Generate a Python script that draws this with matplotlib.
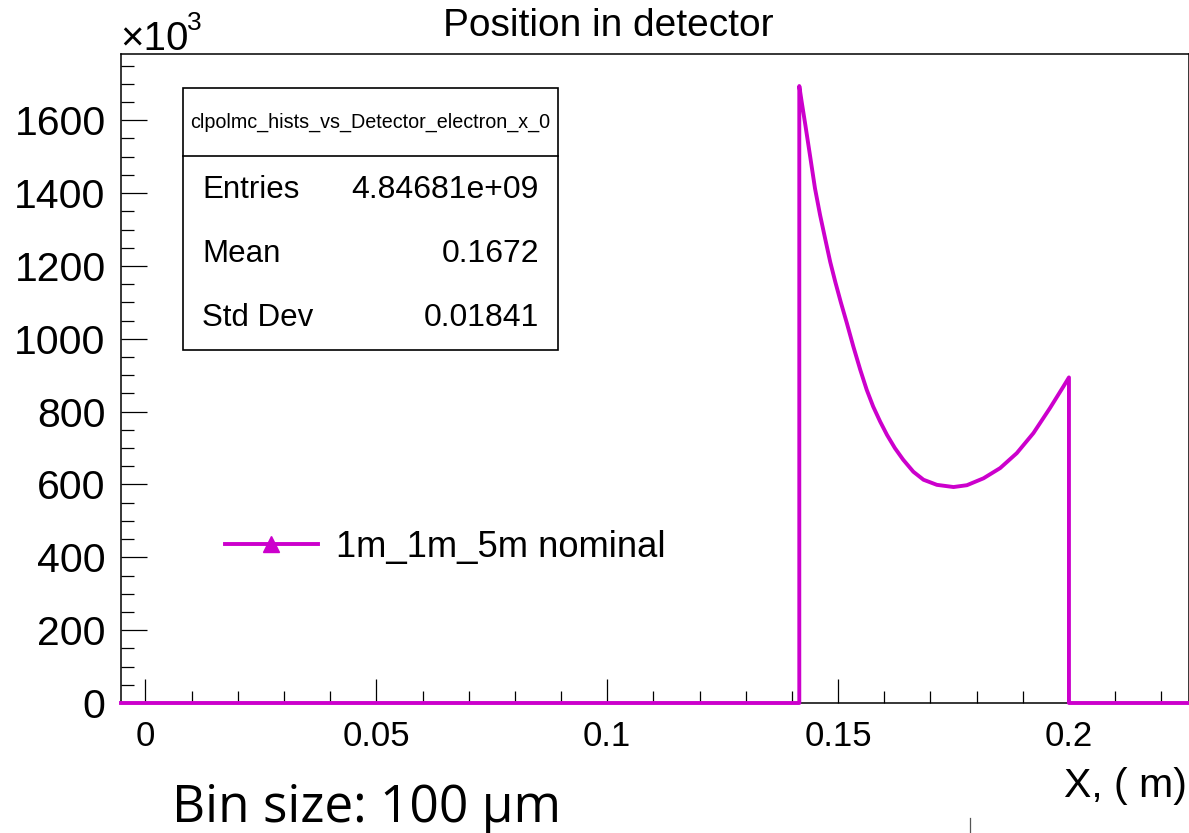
import matplotlib
matplotlib.use("Agg")
import matplotlib.pyplot as plt
from matplotlib.lines import Line2D
from matplotlib.patches import Rectangle
from matplotlib.ticker import MultipleLocator

plt.rcParams['font.family'] = ['Liberation Sans', 'DejaVu Sans']

# Histogram range (m) and the non-empty part of it
HIST_LO, HIST_HI = -0.0053, 0.226
Y_MAX = 1782  # x10^3

# Bin contents (x in m, counts in units of 10^3)
x_pos = [0.1416, 0.1421, 0.1429, 0.1439, 0.1450, 0.1461, 0.1472, 0.1483, 0.1494, 0.1506,
         0.1519, 0.1533, 0.1548, 0.1562, 0.1576, 0.1591, 0.1606, 0.1623, 0.1641, 0.1663,
         0.1685, 0.1714, 0.1750, 0.1779, 0.1815, 0.1851, 0.1887, 0.1923, 0.1959, 0.1988,
         0.2000]
counts = [1694, 1652, 1588, 1505, 1413, 1340, 1275, 1211, 1156, 1100,
          1043, 979, 915, 860, 814, 773, 736, 700, 668, 635,
          613, 599, 593, 598, 617, 645, 686, 741, 810, 869,
          894]

stats_title = "clpolmc_hists_vs_Detector_electron_x_0"
stats_names = ["Entries", "Mean", "Std Dev"]
stats_values = ["4.84681e+09", "0.1672", "0.01841"]
legend_label = "1m_1m_5m nominal"

LINE_COLOR = '#cc00cc'

fig = plt.figure(figsize=(11.89, 8.33), dpi=100)
ax = fig.add_axes([121 / 1189, 1 - 703 / 833, 1 - 121 / 1189, (703 - 54) / 833])

# outline of the histogram: zero, jump up, curve, drop to zero
xs = [HIST_LO, x_pos[0]] + x_pos + [x_pos[-1], HIST_HI]
ys = [0, 0] + counts + [0, 0]
ax.plot(xs, ys, color=LINE_COLOR, lw=2.8, solid_joinstyle='round', clip_on=False, zorder=3)

ax.set_xlim(HIST_LO, HIST_HI)
ax.set_ylim(0, Y_MAX)
ax.xaxis.set_minor_locator(MultipleLocator(0.01))
ax.yaxis.set_major_locator(MultipleLocator(200))
ax.yaxis.set_minor_locator(MultipleLocator(50))
ax.set_xticks([0, 0.05, 0.1, 0.15, 0.2])
ax.set_xticklabels(["0", "0.05", "0.1", "0.15", "0.2"])
ax.tick_params(axis='both', which='both', direction='in', top=False, right=False, width=0.9)
ax.tick_params(axis='y', which='major', length=19, labelsize=29.5, pad=11)
ax.tick_params(axis='y', which='minor', length=9.5)
ax.tick_params(axis='x', which='major', length=17, labelsize=25, pad=12)
ax.tick_params(axis='x', which='minor', length=9)
for s in ax.spines.values():
    s.set_linewidth(1.1)

# stats box
bx0, bx1 = 183 / 1189, 558 / 1189
by0, by1 = 1 - 350 / 833, 1 - 88 / 833
fig.add_artist(Rectangle((bx0, by0), bx1 - bx0, by1 - by0, transform=fig.transFigure,
                         facecolor='white', edgecolor='black', lw=1.2, zorder=5))
fig.add_artist(Line2D([bx0, bx1], [1 - 156 / 833] * 2, transform=fig.transFigure,
                      color='black', lw=1.2, zorder=6))
fig.text((bx0 + bx1) / 2, 1 - 122 / 833, stats_title, ha='center', va='center',
         fontsize=14.2, zorder=7)
for i, (name, val) in enumerate(zip(stats_names, stats_values)):
    yy = 1 - (190 + 64 * i) / 833
    fig.text(202 / 1189, yy, name, ha='left', va='center', fontsize=22.5, zorder=7)
    fig.text(539 / 1189, yy, val, ha='right', va='center', fontsize=23, zorder=7)

# legend
handle = Line2D([], [], color=LINE_COLOR, lw=2.8, marker='^', markersize=12)
fig.legend(handles=[handle], labels=[legend_label], loc='center left',
           bbox_to_anchor=(225 / 1189, 1 - 547 / 833), frameon=False, fontsize=26.2,
           handlelength=2.55, handletextpad=0.5, borderpad=0, borderaxespad=0)

# texts
fig.text(0.5118, 1 - 36 / 833, "Position in detector", ha='center', va='baseline', fontsize=28)
fig.text(120 / 1189, 1 - 50 / 833, "\u00d710", ha='left', va='baseline', fontsize=29)
fig.text(187 / 1189, 1 - 30 / 833, "3", ha='left', va='baseline', fontsize=19)
fig.text(1187 / 1189, 1 - 797 / 833, "X, ( m)", ha='right', va='baseline', fontsize=29.5)
fig.text(172 / 1189, 1 - 822 / 833, "Bin size: 100 \u00b5m", ha='left', va='baseline',
         fontsize=37, family=['Open Sans', 'DejaVu Sans'])
fig.add_artist(Line2D([970 / 1189] * 2, [0, 15 / 833], transform=fig.transFigure,
                      color='#555555', lw=0.9))

fig.savefig("out.png", dpi=100)
